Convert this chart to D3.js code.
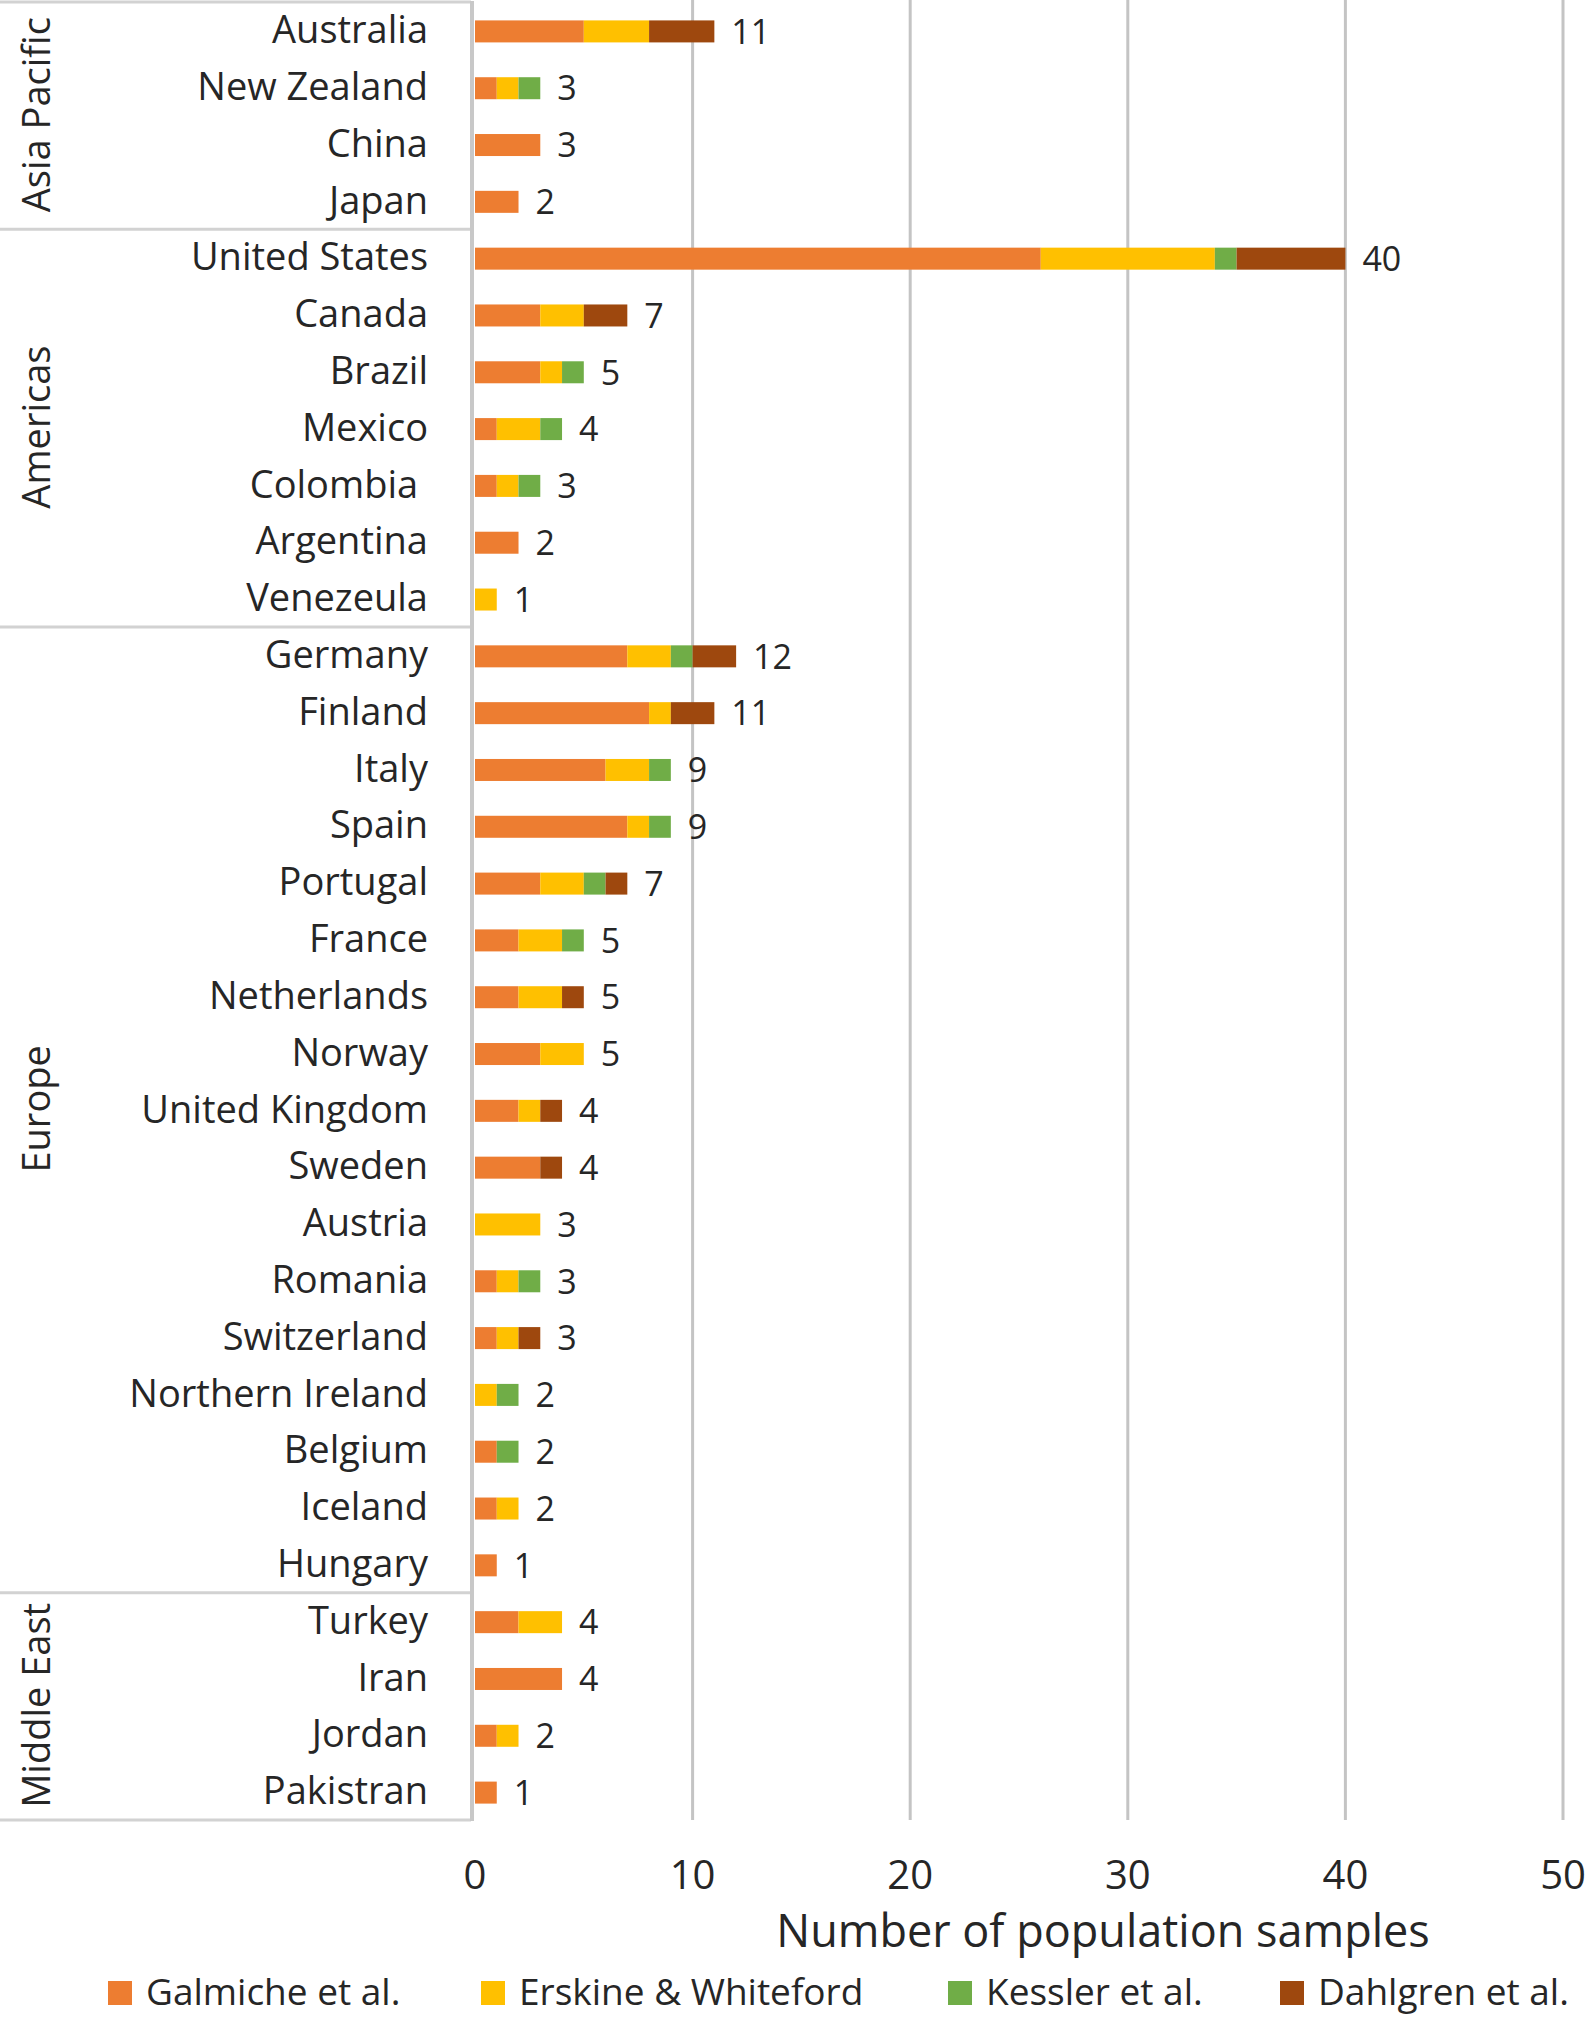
<!DOCTYPE html>
<html>
<head>
<meta charset="utf-8">
<script src="https://cdn.jsdelivr.net/npm/d3@7"></script>
<style>
  body { margin: 0; background: white; }
  text { font-family: "Open Sans", "Noto Sans", sans-serif; fill: #262626; white-space: pre; }
</style>
</head>
<body>
<div id="container"></div>
<script>
// data
const countries = ["Australia", "New Zealand", "China", "Japan",
  "United States", "Canada", "Brazil", "Mexico", "Colombia ", "Argentina", "Venezeula",
  "Germany", "Finland", "Italy", "Spain", "Portugal", "France", "Netherlands", "Norway",
  "United Kingdom", "Sweden", "Austria", "Romania", "Switzerland", "Northern Ireland",
  "Belgium", "Iceland", "Hungary",
  "Turkey", "Iran", "Jordan", "Pakistran"];
const galmiche = [5, 1, 3, 2, 26, 3, 3, 1, 1, 2, 0, 7, 8, 6, 7, 3, 2, 2, 3, 2, 3, 0, 1, 1, 0, 1, 1, 1, 2, 4, 1, 1];
const erskine  = [3, 1, 0, 0, 8, 2, 1, 2, 1, 0, 1, 2, 1, 2, 1, 2, 2, 2, 2, 1, 0, 3, 1, 1, 1, 0, 1, 0, 2, 0, 1, 0];
const kessler  = [0, 1, 0, 0, 1, 0, 1, 1, 1, 0, 0, 1, 0, 1, 1, 1, 1, 0, 0, 0, 0, 0, 1, 0, 1, 1, 0, 0, 0, 0, 0, 0];
const dahlgren = [3, 0, 0, 0, 5, 2, 0, 0, 0, 0, 0, 2, 2, 0, 0, 1, 0, 1, 0, 1, 1, 0, 0, 1, 0, 0, 0, 0, 0, 0, 0, 0];
const regions = ["Asia Pacific", "Americas", "Europe", "Middle East"];
const regionCounts = [4, 7, 17, 4];
const seriesNames = ["Galmiche et al.", "Erskine & Whiteford", "Kessler et al.", "Dahlgren et al."];
const xTicks = [0, 10, 20, 30, 40, 50];

const w = 1594, h = 2018;
const colors = ["#ED7D31", "#FFC000", "#70AD47", "#9E480E"];

const viz = d3.select("#container").append("svg")
    .attr("width", w)
    .attr("height", h)
    .style("display", "block");

let x = d3.scaleLinear().domain([0, 50]).range([475, 1563]);
let y = d3.scaleBand().domain(d3.range(countries.length)).range([1, 1819]);
const barH = 22;

// table for the stack
const keys = ["g", "e", "k", "d"];
const table = countries.map((c, i) => ({ i: i, g: galmiche[i], e: erskine[i], k: kessler[i], d: dahlgren[i] }));
const stacked = d3.stack().keys(keys)(table);

// gridlines
viz.append("g").selectAll("line").data(xTicks.slice(1)).enter()
  .append("line")
    .attr("x1", d => x(d)).attr("x2", d => x(d))
    .attr("y1", 0).attr("y2", 1820)
    .attr("stroke", "#c4c4c4")
    .attr("stroke-width", 3);

// region boxes
let starts = [0];
regionCounts.forEach((n, i) => starts.push(starts[i] + n));
const boundaries = starts.map(s => s < countries.length ? y(s) : y(countries.length - 1) + y.step());

viz.append("g").selectAll("line").data(boundaries).enter()
  .append("line")
    .attr("x1", 0).attr("x2", 471)
    .attr("y1", d => d + 1).attr("y2", d => d + 1)
    .attr("stroke", "#d2d2d2")
    .attr("stroke-width", 3);

viz.append("line")
    .attr("x1", 472).attr("x2", 472)
    .attr("y1", 1).attr("y2", 1821)
    .attr("stroke", "#c8c8c8")
    .attr("stroke-width", 4);

// bars
viz.append("g").selectAll("g").data(stacked).enter()
  .append("g")
    .attr("fill", (d, i) => colors[i])
  .selectAll("rect").data(d => d).enter()
  .append("rect")
    .attr("x", d => x(d[0]))
    .attr("width", d => x(d[1]) - x(d[0]))
    .attr("y", (d, i) => y(i) + y.bandwidth() / 2 - barH / 2 + 2)
    .attr("height", barH);

// totals
viz.append("g").selectAll("text").data(table).enter()
  .append("text")
    .attr("x", d => x(d.g + d.e + d.k + d.d) + 17)
    .attr("y", d => y(d.i) + y.bandwidth() / 2 + 2)
    .attr("dy", "0.36em")
    .style("font-size", "34px")
    .text(d => d.g + d.e + d.k + d.d);

// country labels
viz.append("g").selectAll("text").data(countries).enter()
  .append("text")
    .attr("x", 428)
    .attr("y", (d, i) => y(i) + y.bandwidth() / 2)
    .attr("dy", "0.36em")
    .attr("text-anchor", "end")
    .style("font-size", "38px")
    .text(d => d);

// region labels
viz.append("g").selectAll("text").data(regions).enter()
  .append("text")
    .attr("transform", (d, i) => "translate(50," + (boundaries[i] + boundaries[i + 1]) / 2 + ") rotate(-90)")
    .attr("text-anchor", "middle")
    .style("font-size", "38px")
    .text(d => d);

// x tick labels
viz.append("g").selectAll("text").data(xTicks).enter()
  .append("text")
    .attr("x", d => x(d))
    .attr("y", 1875)
    .attr("dy", "0.36em")
    .attr("text-anchor", "middle")
    .style("font-size", "40px")
    .text(d => d);

viz.append("text")
    .attr("x", 1103)
    .attr("y", 1931)
    .attr("dy", "0.36em")
    .attr("text-anchor", "middle")
    .style("font-size", "45px")
    .text("Number of population samples");

// legend
const legendX = [108, 481, 948, 1280];
const legend = viz.append("g").selectAll("g").data(seriesNames).enter()
  .append("g")
    .attr("transform", (d, i) => "translate(" + legendX[i] + ",1992)");
legend.append("rect")
    .attr("x", 0).attr("y", -11)
    .attr("width", 24).attr("height", 24)
    .attr("fill", (d, i) => colors[i]);
legend.append("text")
    .attr("x", 38)
    .attr("dy", "0.36em")
    .style("font-size", "37px")
    .text(d => d);
</script>
</body>
</html>
